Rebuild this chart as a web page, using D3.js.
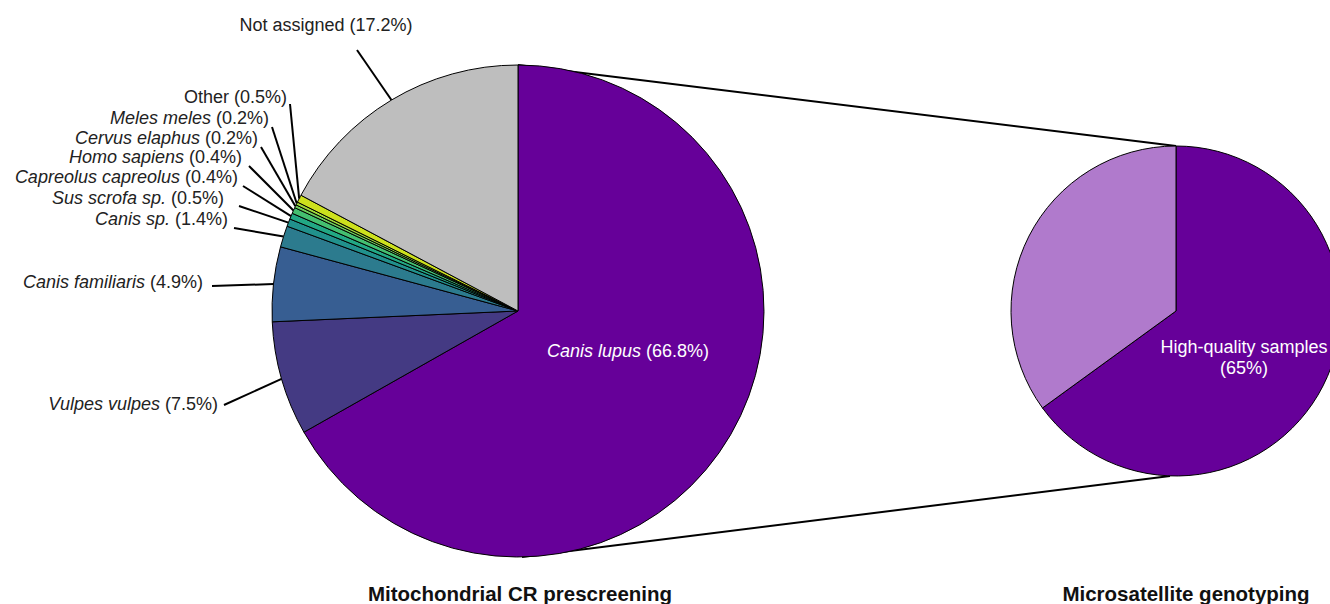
<!DOCTYPE html>
<html>
<head>
<meta charset="utf-8">
<script src="https://cdn.jsdelivr.net/npm/d3@7"></script>
<style>
  body { margin: 0; background: #fff; }
  svg { display: block; font-family: 'Liberation Sans', Arial, sans-serif; }
</style>
</head>
<body>
<div id="chart"></div>
<script>
// mitochondrial CR prescreening, clockwise from 12 o'clock
const species = ['Canis lupus', 'Vulpes vulpes', 'Canis familiaris', 'Canis sp.', 'Sus scrofa sp.',
  'Capreolus capreolus', 'Homo sapiens', 'Cervus elaphus', 'Meles meles', 'Other', 'Not assigned'];
const shares = [66.8, 7.5, 4.9, 1.4, 0.5, 0.4, 0.4, 0.2, 0.2, 0.5, 17.2];
const italicName = [true, true, true, true, true, true, true, true, true, false, false];

// microsatellite genotyping
const quality = ['High-quality samples', 'Low-quality samples'];
const qualityShares = [65, 35];

const titles = ['Mitochondrial CR prescreening', 'Microsatellite genotyping'];

const width = 1330;
const height = 604;

const speciesColors = ['#660099', '#443a83', '#375e92', '#2c7b8e', '#21918c', '#22a884',
  '#44bf70', '#6ccd5a', '#9fda3a', '#cde11d', '#bebebe'];
const qualityColors = ['#660099', '#b07acc'];

// label anchors (text end x, baseline y, leader start x, y)
const labelPos = [
  null,
  [218, 410, 224, 405],
  [203, 288, 212, 286],
  [228, 225, 234, 228],
  [224, 204, 239, 206],
  [238, 183, 243, 186],
  [242, 163, 249, 166],
  [258, 144, 261, 147],
  [269, 124, 272, 127],
  [287, 103, 290, 104],
  [326, 31, 357, 50]
];

const svg = d3.select('#chart').append('svg')
  .attr('width', width)
  .attr('height', height);

const left = { cx: 518, cy: 311, r: 246 };
const right = { cx: 1176, cy: 311, r: 165 };

// zoom connectors
svg.append('line')
  .attr('x1', left.cx).attr('y1', left.cy - left.r)
  .attr('x2', right.cx).attr('y2', right.cy - right.r)
  .attr('stroke', '#000').attr('stroke-width', 2);
svg.append('line')
  .attr('x1', left.cx + 4).attr('y1', left.cy + left.r)
  .attr('x2', right.cx - 6).attr('y2', right.cy + right.r)
  .attr('stroke', '#000').attr('stroke-width', 2);

const pie = d3.pie().sort(null).value((d) => d);

// left pie
const arcL = d3.arc().innerRadius(0).outerRadius(left.r);
const edgeL = d3.arc().innerRadius(left.r).outerRadius(left.r);
const gL = svg.append('g').attr('transform', `translate(${left.cx},${left.cy})`);
const slicesL = pie(shares);

gL.selectAll('path')
  .data(slicesL)
  .join('path')
  .attr('d', arcL)
  .attr('fill', (d, i) => speciesColors[i])
  .attr('stroke', '#000')
  .attr('stroke-width', 1);

// leaders and labels
slicesL.forEach((d, i) => {
  const p = labelPos[i];
  if (!p) return;
  const e = edgeL.centroid(d);
  svg.append('line')
    .attr('x1', p[2]).attr('y1', p[3])
    .attr('x2', left.cx + e[0]).attr('y2', left.cy + e[1])
    .attr('stroke', '#000').attr('stroke-width', 2);
  const t = svg.append('text')
    .attr('x', p[0]).attr('y', p[1])
    .attr('text-anchor', i === 10 ? 'middle' : 'end')
    .attr('font-size', 18)
    .attr('fill', '#222');
  t.append('tspan').attr('font-style', italicName[i] ? 'italic' : 'normal').text(species[i]);
  t.append('tspan').text(` (${shares[i]}%)`);
});

const lupus = svg.append('text')
  .attr('x', 628).attr('y', 357)
  .attr('text-anchor', 'middle')
  .attr('font-size', 18)
  .attr('fill', '#fff');
lupus.append('tspan').attr('font-style', 'italic').text(species[0]);
lupus.append('tspan').text(` (${shares[0]}%)`);

// right pie
const arcR = d3.arc().innerRadius(0).outerRadius(right.r);
const gR = svg.append('g').attr('transform', `translate(${right.cx},${right.cy})`);
gR.selectAll('path')
  .data(pie(qualityShares))
  .join('path')
  .attr('d', arcR)
  .attr('fill', (d, i) => qualityColors[i])
  .attr('stroke', '#000')
  .attr('stroke-width', 1);

const hq = svg.append('text')
  .attr('text-anchor', 'middle')
  .attr('font-size', 18)
  .attr('fill', '#fff');
hq.append('tspan').attr('x', 1244).attr('y', 353).text(quality[0]);
hq.append('tspan').attr('x', 1244).attr('y', 374).text(`(${qualityShares[0]}%)`);

// titles
svg.selectAll('text.title')
  .data(titles)
  .join('text')
  .attr('class', 'title')
  .attr('x', (d, i) => (i === 0 ? 520 : 1186))
  .attr('y', 601)
  .attr('text-anchor', 'middle')
  .attr('font-size', 20.5)
  .attr('font-weight', 'bold')
  .attr('fill', '#111')
  .text((d) => d);
</script>
</body>
</html>
